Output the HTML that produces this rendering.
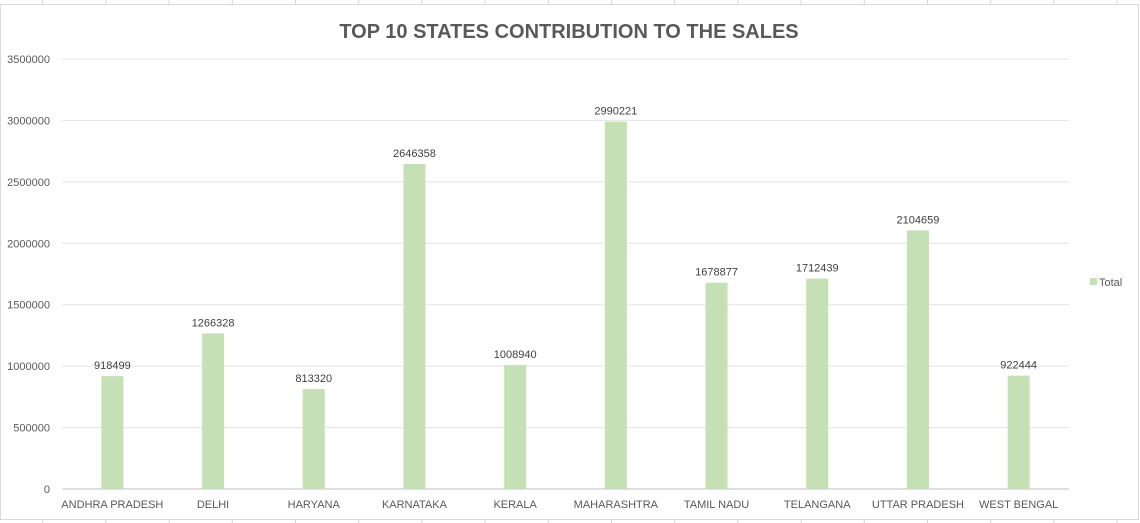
<!DOCTYPE html>
<html><head><meta charset="utf-8"><style>
body{margin:0;background:#fff;}
svg{display:block;font-family:"Liberation Sans",Calibri,sans-serif;}
</style></head><body>
<svg id="c" width="1140" height="523"></svg>
<script>
const categories=["ANDHRA PRADESH","DELHI","HARYANA","KARNATAKA","KERALA","MAHARASHTRA","TAMIL NADU","TELANGANA","UTTAR PRADESH","WEST BENGAL"];
const totals=[918499,1266328,813320,2646358,1008940,2990221,1678877,1712439,2104659,922444];
const yTicks=[0,500000,1000000,1500000,2000000,2500000,3000000,3500000];
const NS="http://www.w3.org/2000/svg";
const svg=document.getElementById('c');
function mk(t,a,txt){const e=document.createElementNS(NS,t);for(const k in a)e.setAttribute(k,a[k]);if(txt!==undefined)e.textContent=txt;svg.appendChild(e);return e;}
const x0=62,x1=1069,yTop=59,yBot=489,yMax=3500000;
const y=v=>yBot-(v/yMax)*(yBot-yTop);
const band=(x1-x0)/categories.length;
const xc=i=>x0+band*(i+0.5);
// sheet grid lines
for(let gx=42.7;gx<1140;gx+=63.2){
 let l=mk('line',{x1:gx,y1:0,x2:gx,y2:4,stroke:'#d4d4d4'});
 
 l=mk('line',{x1:gx,y1:520,x2:gx,y2:523,stroke:'#d4d4d4'});
 
}
let b=mk('rect',{x:0.5,y:4.5,width:1138,height:515,fill:'#fff',stroke:'#d9d9d9'});

let t=mk('text',{x:569,y:38,'text-anchor':'middle','font-size':20,'font-weight':'bold',fill:'#595959'},'TOP 10 STATES CONTRIBUTION TO THE SALES');

yTicks.forEach(v=>{
 const l=mk('line',{x1:x0,x2:x1,y1:y(v),y2:y(v),stroke:v===0?'#bfbfbf':'#e3e3e3'});
 
 const tx=mk('text',{x:50,y:y(v)+4,'text-anchor':'end','font-size':11,fill:'#595959'},String(v));
 
});
const bw=22;
categories.forEach((c,i)=>{
 const r=mk('rect',{x:xc(i)-bw/2,y:y(totals[i]),width:bw,height:yBot-y(totals[i]),fill:'#c5e0b4'});
 
 const lb=mk('text',{x:xc(i),y:y(totals[i])-7,'text-anchor':'middle','font-size':11,fill:'#404040'},String(totals[i]));
 
 const xl=mk('text',{x:xc(i),y:508,'text-anchor':'middle','font-size':11,fill:'#595959'},c);
 
});
let lg=mk('rect',{x:1090,y:278,width:7,height:7,fill:'#c5e0b4'});

lg=mk('text',{x:1099,y:286,'font-size':11,fill:'#595959'},'Total');

</script>
</body></html>
